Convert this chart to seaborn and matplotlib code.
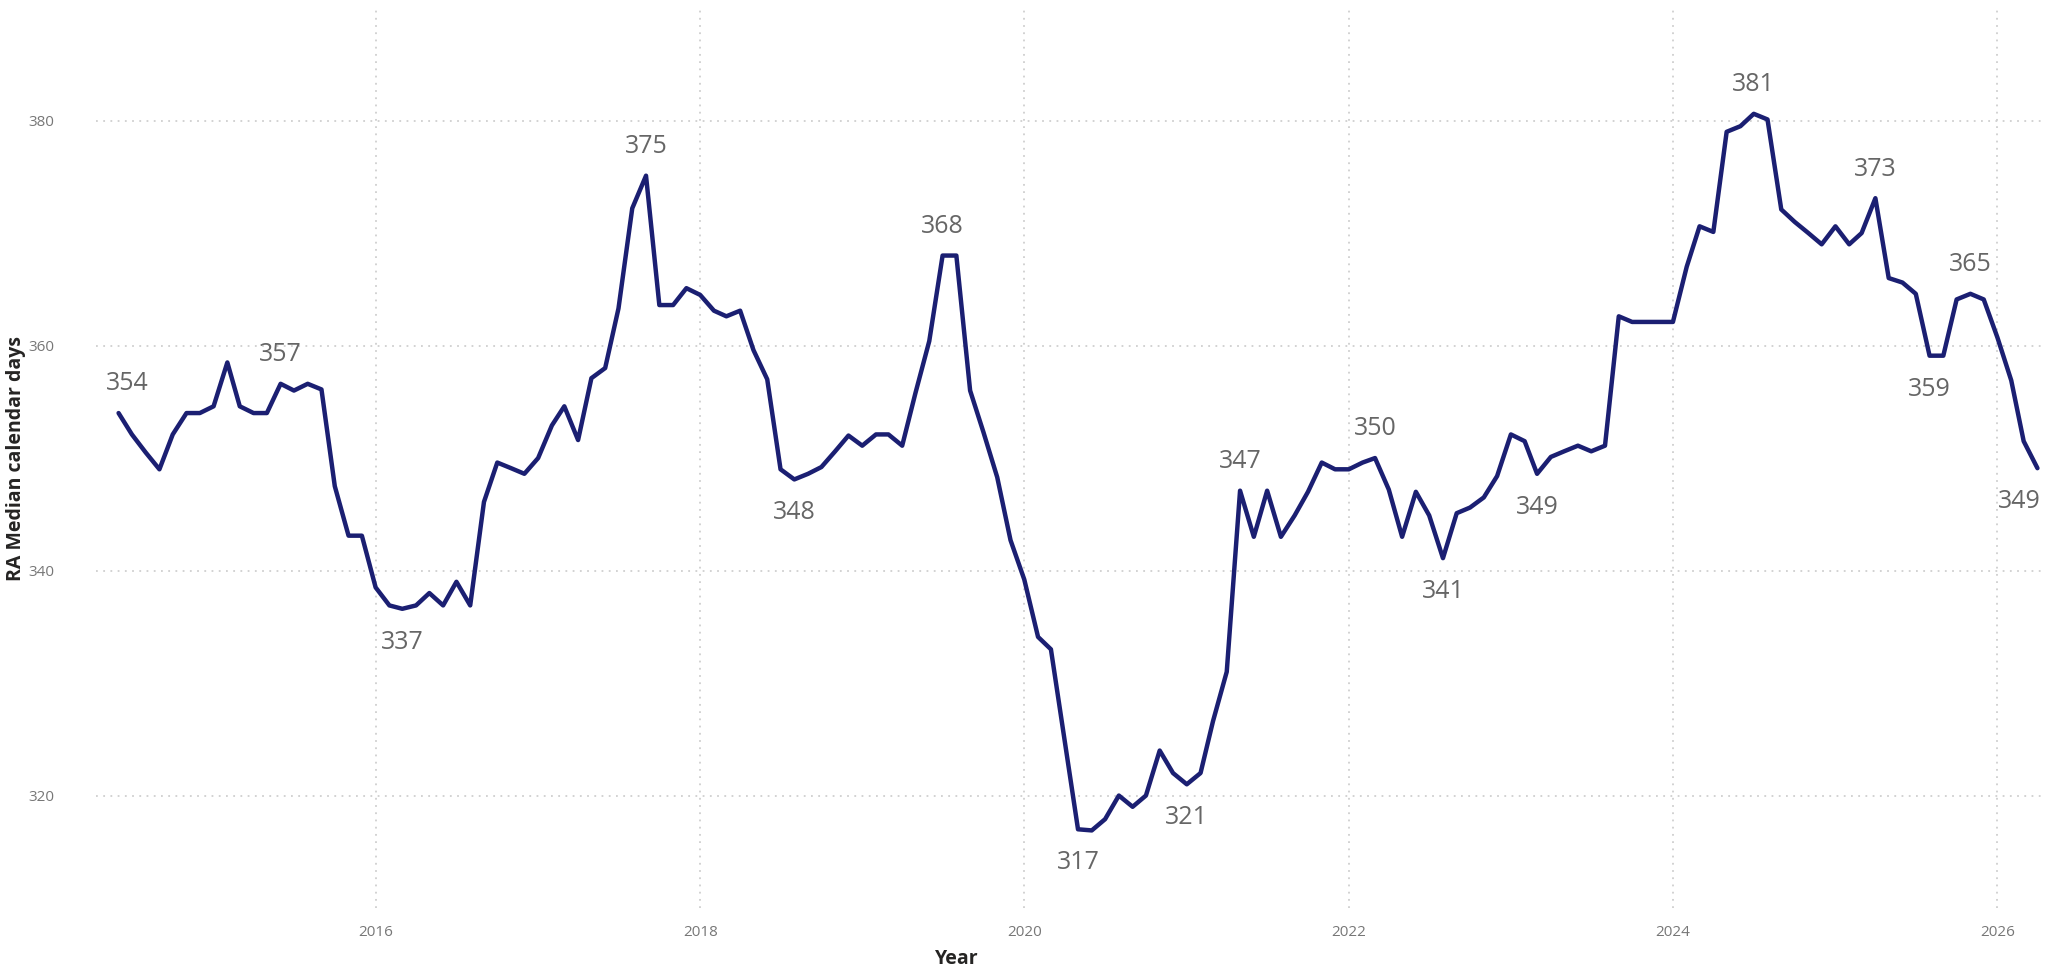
import pandas as pd
import seaborn as sns
import matplotlib.pyplot as plt
import matplotlib.dates as mdates

# monthly series, Jun 2014 .. Apr 2026
months = pd.date_range("2014-06-01", "2026-04-01", freq="MS")
median_days = [
    354.0, 352.1, 350.5, 349.0, 352.1, 354.0, 354.0,                                  # 2014
    354.6, 358.5, 354.6, 354.0, 354.0, 356.6, 356.0, 356.6, 356.1, 347.5, 343.1, 343.1,  # 2015
    338.5, 336.9, 336.6, 336.9, 338.0, 336.9, 339.0, 336.9, 346.1, 349.6, 349.1, 348.6,  # 2016
    350.0, 352.9, 354.6, 351.6, 357.1, 358.0, 363.3, 372.2, 375.1, 363.6, 363.6, 365.1,  # 2017
    364.5, 363.1, 362.6, 363.1, 359.6, 357.0, 349.0, 348.1, 348.6, 349.2, 350.6, 352.0,  # 2018
    351.1, 352.1, 352.1, 351.1, 355.8, 360.4, 368.0, 368.0, 356.0, 352.3, 348.3, 342.7,  # 2019
    339.2, 334.1, 333.0, 324.9, 317.0, 316.9, 317.9, 320.0, 319.0, 320.0, 324.0, 322.0,  # 2020
    321.0, 322.0, 326.6, 331.0, 347.1, 343.0, 347.1, 343.0, 344.9, 347.0, 349.6, 349.0,  # 2021
    349.0, 349.6, 350.0, 347.2, 343.0, 347.0, 344.9, 341.1, 345.1, 345.6, 346.5, 348.4,  # 2022
    352.1, 351.5, 348.6, 350.1, 350.6, 351.1, 350.6, 351.1, 362.6, 362.1, 362.1, 362.1,  # 2023
    362.1, 367.0, 370.6, 370.1, 379.0, 379.5, 380.6, 380.1, 372.1, 371.0, 370.0, 369.0,  # 2024
    370.6, 369.0, 370.0, 373.1, 366.0, 365.6, 364.6, 359.1, 359.1, 364.1, 364.6, 364.1,  # 2025
    360.7, 356.9, 351.5, 349.1,                                                          # 2026
]

# data labels shown on the chart
label_months = ["2014-06", "2015-06", "2016-03", "2017-09", "2018-08", "2019-07",
                "2020-05", "2021-01", "2021-05", "2022-03", "2022-08", "2023-03",
                "2024-07", "2025-04", "2025-08", "2025-11", "2026-04"]
label_side = ["above", "above", "below", "above", "below", "above",
              "below", "below", "above", "above", "below", "below",
              "above", "above", "below", "above", "below"]

df = pd.DataFrame({"Year": months, "RA Median calendar days": median_days})

sns.set_style("white")
plt.rcParams["font.family"] = ["Open Sans", "DejaVu Sans"]

fig = plt.figure(figsize=(20.63, 9.72), dpi=100)
ax = fig.add_axes([0.0465, 0.0658, 0.9452, 0.9259])

sns.lineplot(data=df, x="Year", y="RA Median calendar days",
             color="#1B1F72", linewidth=3.2, ax=ax)

ax.set_ylim(310, 390)
ax.set_yticks([320, 340, 360, 380])
ax.set_xlim(pd.Timestamp("2014-04-11"), pd.Timestamp("2026-04-20"))
ax.xaxis.set_major_locator(mdates.YearLocator(2))
ax.xaxis.set_major_formatter(mdates.DateFormatter("%Y"))

ax.grid(True, linestyle=(0, (1, 3)), color="#cfcfcf", linewidth=1.3)
for s in ax.spines.values():
    s.set_visible(False)
ax.tick_params(axis="both", length=0, labelsize=11, labelcolor="#777777")
ax.tick_params(axis="y", pad=30)
ax.tick_params(axis="x", pad=12)

ax.set_xlabel("Year", fontsize=14, fontweight="bold", color="#252423")
ax.set_ylabel("RA Median calendar days", fontsize=14, fontweight="bold", color="#252423")
ax.xaxis.set_label_coords(0.4415, -0.045)
ax.yaxis.set_label_coords(-0.036, 0.5)

for i, (m, side) in enumerate(zip(label_months, label_side)):
    ts = pd.Timestamp(m + "-01")
    v = df.loc[df["Year"] == ts, "RA Median calendar days"].iloc[0]
    dx = 0
    if i == 0:
        dx = 6
    elif i == len(label_months) - 1:
        dx = -13
    if side == "above":
        dy, va = 12, "bottom"
    else:
        dy, va = -15, "top"
    ax.annotate(f"{round(v)}", (ts, v), xytext=(dx, dy), textcoords="offset points",
                ha="center", va=va, fontsize=18, color="#666666")

fig.savefig("out.png", dpi=100)
